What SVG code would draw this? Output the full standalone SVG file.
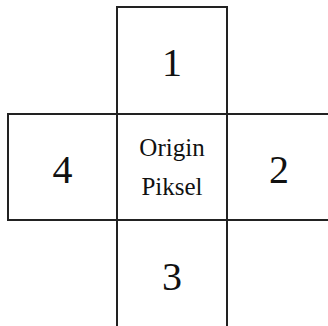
<svg xmlns="http://www.w3.org/2000/svg" width="328" height="326" viewBox="0 0 328 326">
<style>
.box{fill:none;stroke:#222;stroke-width:2}
text{fill:#111;text-anchor:middle}
.num{font-size:40px}
.lbl{font-size:25px}
</style>
<rect width="328" height="326" fill="#fff"/>
<g font-family="Liberation Serif, DejaVu Serif, Times New Roman, serif">
<g id="cell1"><rect class="box" x="117" y="7" width="110" height="107"/><text class="num" x="172" y="76">1</text></g>
<g id="cell4"><rect class="box" x="8" y="114" width="109" height="106"/><text class="num" x="62.5" y="183">4</text></g>
<g id="origin"><rect class="box" x="117" y="114" width="110" height="106"/><text class="lbl" x="172" y="156">Origin</text><text class="lbl" x="172" y="195">Piksel</text></g>
<g id="cell2"><rect class="box" x="227" y="114" width="120" height="106"/><text class="num" x="279" y="183">2</text></g>
<g id="cell3"><rect class="box" x="117" y="220" width="110" height="120"/><text class="num" x="172" y="290">3</text></g>
</g>
<g id="connectors"></g>
</svg>
